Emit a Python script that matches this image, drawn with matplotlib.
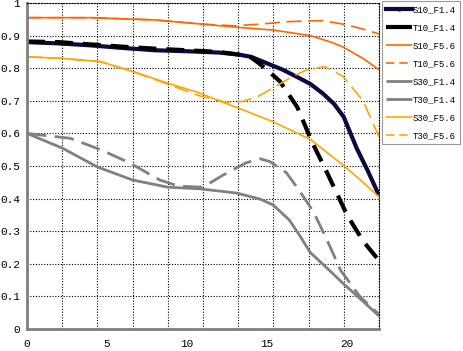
import matplotlib
matplotlib.use('Agg')
import matplotlib.pyplot as plt
from matplotlib.lines import Line2D
import numpy as np

# series values
x_s10_f14 = [0, 2, 4, 6, 8, 10, 12, 13.2, 14, 15, 16, 17, 17.7, 18.5, 19.2, 19.8, 20.6, 21.3, 22]
y_s10_f14 = [0.880, 0.876, 0.870, 0.862, 0.855, 0.852, 0.848, 0.842, 0.835, 0.815, 0.795, 0.770, 0.752, 0.722, 0.69, 0.65, 0.555, 0.485, 0.41]

x_t10_f14 = [0, 2, 4, 6, 8, 10, 12, 13.5, 14, 14.5, 15, 15.8, 16.9, 17.8, 18.75, 20, 21, 22]
y_t10_f14 = [0.882, 0.880, 0.873, 0.866, 0.860, 0.855, 0.850, 0.840, 0.833, 0.815, 0.795, 0.760, 0.680, 0.575, 0.48, 0.35, 0.27, 0.21]

x_s10_f56 = [0, 4, 8, 11, 13, 15.4, 17.7, 19, 19.75, 21, 22]
y_s10_f56 = [0.955, 0.955, 0.948, 0.935, 0.926, 0.917, 0.900, 0.880, 0.865, 0.830, 0.795]

x_t10_f56 = [0, 4, 8, 11, 13, 14.5, 16.4, 18.5, 20, 21, 22]
y_t10_f56 = [0.955, 0.955, 0.948, 0.935, 0.930, 0.935, 0.943, 0.946, 0.933, 0.920, 0.905]

x_s30_f14 = [0, 2.2, 4.4, 6.6, 8.8, 10.8, 13.1, 14.6, 15.4, 16.4, 17, 17.7, 18.9, 19.75, 21, 22]
y_s30_f14 = [0.60, 0.555, 0.497, 0.457, 0.435, 0.430, 0.417, 0.398, 0.380, 0.334, 0.29, 0.235, 0.18, 0.14, 0.085, 0.04]

x_t30_f14 = [0, 2.7, 4.6, 6.4, 8.3, 9.5, 11, 12.25, 13.7, 14.6, 15.2, 16.2, 17, 17.9, 18.75, 19.6, 20.8, 22]
y_t30_f14 = [0.60, 0.585, 0.55, 0.51, 0.457, 0.438, 0.435, 0.472, 0.51, 0.522, 0.513, 0.48, 0.426, 0.36, 0.273, 0.18, 0.10, 0.045]

x_s30_f56 = [0, 2.2, 4.6, 6.6, 8.75, 10.8, 12.1, 13.2, 15.4, 17.7, 19.75, 21, 22]
y_s30_f56 = [0.835, 0.830, 0.820, 0.790, 0.755, 0.724, 0.698, 0.678, 0.635, 0.582, 0.503, 0.45, 0.405]

x_t30_f56 = [0, 2.2, 4.6, 6.6, 8.75, 10.8, 12.5, 13.5, 14.5, 15.4, 16.6, 17.5, 18.6, 19.75, 21, 22]
y_t30_f56 = [0.835, 0.830, 0.820, 0.790, 0.752, 0.715, 0.695, 0.698, 0.715, 0.740, 0.775, 0.795, 0.805, 0.775, 0.70, 0.59]

labels = ['S10_F1.4', 'T10_F1.4', 'S10_F5.6', 'T10_F5.6',
          'S30_F1.4', 'T30_F1.4', 'S30_F5.6', 'T30_F5.6']
x_ticks = [0, 5, 10, 15, 20]
y_ticks = [0, 0.1, 0.2, 0.3, 0.4, 0.5, 0.6, 0.7, 0.8, 0.9, 1]
y_ticklabels = ['0', '0.1', '0.2', '0.3', '0.4', '0.5', '0.6', '0.7', '0.8', '0.9', '1']

series = [(x_s10_f14, y_s10_f14), (x_t10_f14, y_t10_f14), (x_s10_f56, y_s10_f56), (x_t10_f56, y_t10_f56),
          (x_s30_f14, y_s30_f14), (x_t30_f14, y_t30_f14), (x_s30_f56, y_s30_f56), (x_t30_f56, y_t30_f56)]

# style per series: colour, width, dash pattern (None = solid)
styles = [('#0a0a40', 3.0, None),
          ('#000000', 3.0, (4.3, 2.4)),
          ('#ff6600', 1.2, None),
          ('#ff6600', 1.2, (9, 4)),
          ('#808080', 2.0, None),
          ('#808080', 2.0, (7, 3)),
          ('#ffa500', 1.2, None),
          ('#ffa500', 1.2, (9, 4))]

plt.rcParams['font.family'] = ['Liberation Mono', 'DejaVu Sans Mono']

fig = plt.figure(figsize=(4.64, 3.51), dpi=100)
ax = fig.add_axes([27 / 464, 22 / 351, 352 / 464, 326 / 351])

for (xs, ys), (col, lw, dash) in zip(series, styles):
    line, = ax.plot(xs, ys, color=col, linewidth=lw, solid_capstyle='butt')
    if dash is not None:
        line.set_dashes(dash)
        line.set_dash_capstyle('butt')

ax.set_xlim(0, 22)
ax.set_ylim(0, 1)
ax.set_xticks(x_ticks)
ax.set_yticks(y_ticks)
ax.set_yticklabels(y_ticklabels)
# vertical grid at ten equal divisions, not at the labels
ax.set_xticks(np.linspace(0, 22, 11), minor=True)
ax.grid(False)
ax.yaxis.grid(True, color='black', linestyle=(0, (1, 1.5)), linewidth=0.8)
ax.xaxis.grid(True, which='minor', color='black', linestyle=(0, (1, 1.5)), linewidth=0.8)
ax.tick_params(axis='both', which='both', length=0, labelsize=8)
ax.tick_params(axis='x', pad=7)
ax.tick_params(axis='y', pad=5)
ax.set_axisbelow(True)

for side in ['top', 'right']:
    ax.spines[side].set_linestyle((0, (1, 1.5)))
    ax.spines[side].set_linewidth(0.8)
    ax.spines[side].set_color('black')
for side in ['left', 'bottom']:
    ax.spines[side].set_color('#808080')
    ax.spines[side].set_linewidth(2)

handles = []
for i, (col, lw, dash) in enumerate(styles):
    if i == 0:
        h = Line2D([0, 1, 2], [0, 0, 0], color=col, linewidth=lw, marker='o', markersize=2, markevery=[1])
    else:
        h = Line2D([], [], color=col, linewidth=lw, solid_capstyle='butt')
        if i in (3, 7):
            h.set_dashes((5, 3))
    handles.append(h)

leg = fig.legend(handles, labels, loc='upper left', bbox_to_anchor=(382 / 464, 1 - 1 / 351),
                 fontsize=6.5, frameon=True, fancybox=False, edgecolor='#808080',
                 handlelength=2.9, handletextpad=0.1, labelspacing=1.0,
                 borderpad=0.45, borderaxespad=0)
leg.get_frame().set_linewidth(0.8)

plt.savefig('out.png', dpi=100)
